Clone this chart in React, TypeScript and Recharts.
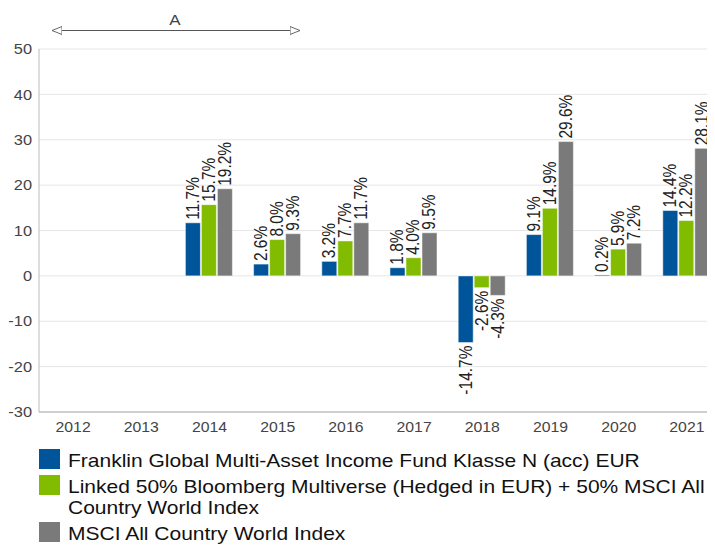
import React from "react";
import { BarChart, Bar, XAxis, YAxis, CartesianGrid, LabelList } from "recharts";

const years = ["2012", "2013", "2014", "2015", "2016", "2017", "2018", "2019", "2020", "2021"];
const franklin = [null, null, 11.7, 2.6, 3.2, 1.8, -14.7, 9.1, 0.2, 14.4];
const linked = [null, null, 15.7, 8.0, 7.7, 4.0, -2.6, 14.9, 5.9, 12.2];
const msci = [null, null, 19.2, 9.3, 11.7, 9.5, -4.3, 29.6, 7.2, 28.1];
const yTicks = [-30, -20, -10, 0, 10, 20, 30, 40, 50];

const seriesNames = [
  "Franklin Global Multi-Asset Income Fund Klasse N (acc) EUR",
  "Linked 50% Bloomberg Multiverse (Hedged in EUR) + 50% MSCI All Country World Index",
  "MSCI All Country World Index",
];
const colors = ["#00559a", "#82bc00", "#7a7a7a"];
const annotationLabel = "A";

const data = years.map((y, i) => ({ year: y, f: franklin[i], l: linked[i], m: msci[i] }));

const SANS = "'Liberation Sans', Arial, sans-serif";
const WIDE = 1.13;
const LEGEND_WIDE = 1.105;

const BarLabel = (props: any) => {
  const { x, y, width, height, value } = props;
  if (value === null || value === undefined) return null;
  const top = Math.min(y, y + height);
  const bottom = Math.max(y, y + height);
  const cx = x + width / 2;
  const neg = value < 0;
  const ty = neg ? bottom + 3 : top - 3;
  return (
    <g transform={`translate(${cx} ${ty}) scale(${WIDE} 1) rotate(-90)`}>
      <text
        x={0}
        y={0}
        textAnchor={neg ? "end" : "start"}
        dominantBaseline="central"
        fontSize={15.5}
        fontFamily={SANS}
        fill="#222"
      >
        {`${Number(value).toFixed(1)}%`}
      </text>
    </g>
  );
};

const XTick = (props: any) => {
  const { x, y, payload } = props;
  return (
    <g transform={`translate(${x} ${y}) scale(${WIDE} 1)`}>
      <text x={0} y={20} textAnchor="middle" fontSize={14} fontFamily={SANS} fill="#444">
        {payload.value}
      </text>
    </g>
  );
};

const YTick = (props: any) => {
  const { x, y, payload } = props;
  return (
    <g transform={`translate(${x} ${y}) scale(${WIDE} 1)`}>
      <text x={0} y={0} dy="0.355em" textAnchor="end" fontSize={14.5} fontFamily={SANS} fill="#444">
        {payload.value}
      </text>
    </g>
  );
};

export default function App() {
  return (
    <div style={{ position: "relative", width: 721, height: 545, marginLeft: -8, marginTop: -8, background: "#fff" }}>
      <svg style={{ position: "absolute", left: 0, top: 0 }} width={720} height={48}>
        <defs>
          <marker id="arrowR" viewBox="0 0 10 10" refX="10" refY="5" markerWidth="10" markerHeight="10" markerUnits="userSpaceOnUse" orient="auto">
            <path d="M0,1 L10,5 L0,9 Z" fill="#fff" stroke="#666" strokeWidth="1" />
          </marker>
          <marker id="arrowL" viewBox="0 0 10 10" refX="10" refY="5" markerWidth="10" markerHeight="10" markerUnits="userSpaceOnUse" orient="auto-start-reverse">
            <path d="M0,1 L10,5 L0,9 Z" fill="#fff" stroke="#666" strokeWidth="1" />
          </marker>
        </defs>
        <line x1={52} y1={30.5} x2={300} y2={30.5} stroke="#555" strokeWidth={1.2} markerStart="url(#arrowL)" markerEnd="url(#arrowR)" />
        <g transform={`translate(175 25) scale(${WIDE} 1)`}>
          <text x={0} y={0} textAnchor="middle" fontSize={15} fontFamily={SANS} fill="#444">
            {annotationLabel}
          </text>
        </g>
      </svg>
      <div style={{ position: "absolute", left: 0, top: 0 }}>
        <BarChart
          width={721}
          height={442}
          data={data}
          margin={{ top: 49, right: 0, bottom: 0, left: 0 }}
          barCategoryGap={10}
          barGap={1}
        >
          <CartesianGrid vertical={false} stroke="#e6e6e6" />
          <XAxis
            dataKey="year"
            tickLine={false}
            axisLine={{ stroke: "#aaa" }}
            tick={<XTick />}
            tickSize={0}
            tickMargin={0}
            height={30}
            interval={0}
          />
          <YAxis
            domain={[-30, 50]}
            ticks={yTicks}
            interval={0}
            tickLine={false}
            axisLine={{ stroke: "#bbb" }}
            tick={<YTick />}
            tickSize={0}
            tickMargin={7}
            width={39}
          />
          {["f", "l", "m"].map((k, i) => (
            <Bar key={k} dataKey={k} fill={colors[i]} stroke="#fff" strokeWidth={0.5} isAnimationActive={false}>
              <LabelList dataKey={k} content={BarLabel} />
            </Bar>
          ))}
        </BarChart>
      </div>
      <div style={{ position: "absolute", left: 39, top: 449, fontFamily: SANS, fontSize: 19, color: "#111", lineHeight: "21px" }}>
        {seriesNames.map((n, i) => (
          <div key={n} style={{ display: "flex", alignItems: "flex-start", marginBottom: 4 }}>
            <div style={{ width: 21, height: 20, background: colors[i], flexShrink: 0 }} />
            <div style={{ marginLeft: 8, width: 0, marginTop: 1 }}>
              <div style={{ width: 590, transform: `scaleX(${LEGEND_WIDE})`, transformOrigin: "left top" }}>{n}</div>
            </div>
          </div>
        ))}
      </div>
    </div>
  );
}
